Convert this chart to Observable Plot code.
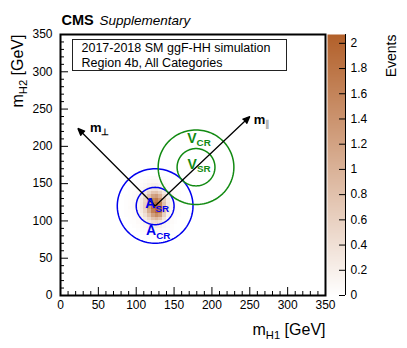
<!DOCTYPE html>
<html><head><meta charset="utf-8">
<script src="https://cdn.jsdelivr.net/npm/d3@7"></script>
<script src="https://cdn.jsdelivr.net/npm/@observablehq/plot@0.6"></script>
<style>
body{margin:0;background:#fff;}
#wrap{position:relative;width:407px;height:348px;overflow:hidden;}
#wrap svg{position:absolute;left:0;top:0;}
</style></head><body><div id="wrap"></div>
<script>
// ---------------- data ----------------
const xBinLow = [85,90,95,100,105,110,115,120,125,130,135,140,145,150,155,160];
const yBinLow = [155,150,145,140,135,130,125,120,115,110,105,100,95,90,85,80,75];
const binWidth = 5;
const events = [
 [0,0,0,0,0.02,0.03,0.05,0.06,0.06,0.05,0.03,0.02,0,0,0,0],
 [0,0,0,0.02,0.04,0.06,0.09,0.1,0.1,0.08,0.06,0.03,0.02,0,0,0],
 [0,0,0.02,0.04,0.06,0.1,0.16,0.2,0.2,0.16,0.1,0.06,0.03,0.02,0,0],
 [0,0.02,0.03,0.06,0.1,0.16,0.28,0.38,0.4,0.3,0.16,0.08,0.04,0.02,0,0],
 [0,0.02,0.05,0.08,0.14,0.28,0.5,0.75,0.8,0.58,0.28,0.12,0.06,0.03,0.02,0],
 [0.02,0.03,0.06,0.1,0.2,0.42,0.8,1.2,1.3,1.0,0.48,0.2,0.08,0.04,0.02,0],
 [0.02,0.04,0.07,0.13,0.27,0.55,1.1,1.6,1.75,1.4,0.7,0.26,0.1,0.05,0.02,0],
 [0.02,0.04,0.08,0.14,0.3,0.6,1.25,1.8,1.95,1.65,0.82,0.3,0.12,0.05,0.02,0.02],
 [0.02,0.05,0.08,0.15,0.3,0.6,1.25,1.85,2.05,1.85,0.88,0.3,0.12,0.05,0.02,0],
 [0.02,0.04,0.07,0.13,0.27,0.55,1.1,1.65,1.95,1.75,0.78,0.27,0.1,0.05,0.02,0],
 [0.02,0.03,0.06,0.1,0.2,0.42,0.8,1.25,1.5,1.3,0.58,0.2,0.08,0.04,0.02,0],
 [0,0.02,0.05,0.08,0.14,0.28,0.5,0.8,0.92,0.75,0.34,0.13,0.06,0.03,0,0],
 [0,0.02,0.03,0.06,0.09,0.16,0.28,0.42,0.48,0.38,0.2,0.09,0.05,0.02,0,0],
 [0,0,0.02,0.04,0.06,0.1,0.16,0.2,0.23,0.19,0.1,0.06,0.03,0,0,0],
 [0,0,0,0.02,0.04,0.06,0.09,0.1,0.11,0.09,0.06,0.04,0.02,0,0,0],
 [0,0,0,0,0.02,0.03,0.05,0.06,0.06,0.05,0.03,0.02,0,0,0,0],
 [0,0,0,0,0,0.02,0.02,0.03,0.03,0.02,0.02,0,0,0,0,0]
];
const axisTicksMajor = [0,50,100,150,200,250,300,350];
const axisTicksMinor = [10,20,30,40,60,70,80,90,110,120,130,140,160,170,180,190,210,220,230,240,260,270,280,290,310,320,330,340];
const colorTicks = [0,0.2,0.4,0.6,0.8,1,1.2,1.4,1.6,1.8,2];
const colorMax = 2.07;
const regionNames = ["A","V"];
const regionCenterH1 = [125,179];
const regionCenterH2 = [120,172];
const regionRadii = [25,50];
const arrowNames = ["m_{⊥}","m_{∥}"];
const arrowTipH1 = [23,250];
const arrowTipH2 = [224,240];
const legendLines = ["2017-2018 SM ggF-HH simulation","Region 4b, All Categories"];

// ---------------- layout / style ----------------
const W = 407, H = 348, ML = 60, MR = 82, MT = 34, MB = 53;
const FW = W - ML - MR, FH = H - MT - MB;
const FONT = "'Liberation Sans', Arial, Helvetica, sans-serif";
const brown = "#b2602a";
const blue = "#0000ee", green = "#128a12";
const colorSpec = {type: "linear", domain: [0, colorMax], range: ["#ffffff", brown], interpolate: "rgb"};

// ---------------- derived tables ----------------
const cells = [];
yBinLow.forEach((y, r) => xBinLow.forEach((x, c) => {
  const v = events[r][c];
  if (v > 0) cells.push({x1: x, x2: x + binWidth, y1: y, y2: y + binWidth, v});
}));
const circlePts = [];
regionNames.forEach((name, i) => regionRadii.forEach(R => {
  for (let a = 0; a <= 360; a += 3) {
    const t = a * Math.PI / 180;
    circlePts.push({region: name, id: name + R, x: regionCenterH1[i] + R * Math.cos(t), y: regionCenterH2[i] + R * Math.sin(t)});
  }
}));
const arrows = arrowNames.map((name, i) => ({name, x1: regionCenterH1[0], y1: regionCenterH2[0], x2: arrowTipH1[i], y2: arrowTipH2[i]}));
const regionLabel = (i, kind) => regionNames[i] + "_{" + kind + "}";

const main = Plot.plot({
  width: W, height: H, marginLeft: ML, marginRight: MR, marginTop: MT, marginBottom: MB,
  style: {fontFamily: FONT, fontSize: "12px", background: "white", color: "black", overflow: "visible"},
  x: {domain: [0, 350], axis: null},
  y: {domain: [0, 350], axis: null},
  color: colorSpec,
  marks: [
    Plot.rect(cells, {x1: "x1", x2: "x2", y1: "y1", y2: "y2", fill: "v", shapeRendering: "crispEdges"}),
    Plot.line(circlePts.filter(d => d.region === "A"), {x: "x", y: "y", z: "id", stroke: blue, strokeWidth: 1.5}),
    Plot.line(circlePts.filter(d => d.region === "V"), {x: "x", y: "y", z: "id", stroke: green, strokeWidth: 1.5}),
    Plot.arrow(arrows, {x1: "x1", y1: "y1", x2: "x2", y2: "y2", stroke: "black", fill: "black", strokeWidth: 1.3, headLength: 9, headAngle: 45, strokeLinecap: "butt", strokeLinejoin: "miter"}),
    // region labels
    Plot.text([regionLabel(0, "SR")], {x: regionCenterH1[0], y: regionCenterH2[0], dx: 2, dy: -2, fill: blue, fontWeight: "bold", fontSize: 14, textAnchor: "middle", lineAnchor: "middle"}),
    Plot.text([regionLabel(0, "CR")], {x: regionCenterH1[0], y: regionCenterH2[0], dx: 3, dy: 25, fill: blue, fontWeight: "bold", fontSize: 14, textAnchor: "middle", lineAnchor: "middle"}),
    Plot.text([regionLabel(1, "SR")], {x: regionCenterH1[1], y: regionCenterH2[1], dx: 3, dy: -3, fill: green, fontWeight: "bold", fontSize: 14, textAnchor: "middle", lineAnchor: "middle"}),
    Plot.text([regionLabel(1, "CR")], {x: regionCenterH1[1], y: regionCenterH2[1], dx: 3, dy: -29, fill: green, fontWeight: "bold", fontSize: 14, textAnchor: "middle", lineAnchor: "middle"}),
    // arrow labels
    Plot.text([arrows[0]], {x: "x2", y: "y2", text: "name", dx: 12, dy: -1, fontWeight: "bold", fontSize: 13, textAnchor: "start", lineAnchor: "middle"}),
    Plot.text([arrows[1]], {x: "x2", y: "y2", text: "name", dx: 4, dy: 3, fontWeight: "bold", fontSize: 13, textAnchor: "start", lineAnchor: "middle"}),
    // legend box
    Plot.frame({insetLeft: 12, insetTop: 5, insetRight: 39, insetBottom: 225, stroke: "#222", strokeWidth: 1}),
    Plot.text([legendLines[0]], {frameAnchor: "top-left", dx: 21, dy: 13.5, fontSize: 12.5, textAnchor: "start", lineAnchor: "middle"}),
    Plot.text([legendLines[1]], {frameAnchor: "top-left", dx: 21, dy: 28, fontSize: 12.5, textAnchor: "start", lineAnchor: "middle"}),
    // ticks (ROOT style, inward)
    Plot.ruleX(axisTicksMajor, {stroke: "black", insetTop: FH - 8}),
    Plot.ruleX(axisTicksMinor, {stroke: "black", insetTop: FH - 4}),
    Plot.ruleY(axisTicksMajor, {stroke: "black", insetRight: FW - 8}),
    Plot.ruleY(axisTicksMinor, {stroke: "black", insetRight: FW - 4}),
    Plot.axisX(axisTicksMajor, {tickSize: 0, tickPadding: 5, fontSize: 12, label: null}),
    Plot.axisY(axisTicksMajor, {tickSize: 0, tickPadding: 8, fontSize: 12, label: null}),
    Plot.frame({stroke: "black", strokeWidth: 2}),
    // titles
    Plot.text(["m_{H1} [GeV]"], {frameAnchor: "bottom-right", dy: 34, fontSize: 16, textAnchor: "end", lineAnchor: "middle"}),
    Plot.text(["m_{H2} [GeV]"], {frameAnchor: "top-left", dx: -43, rotate: -90, fontSize: 16, textAnchor: "end", lineAnchor: "middle"}),
    Plot.text(["CMS"], {frameAnchor: "top-left", dx: 1, dy: -14, fontSize: 14.5, fontWeight: "bold", textAnchor: "start", lineAnchor: "middle"}),
    Plot.text(["Supplementary"], {frameAnchor: "top-left", dx: 39, dy: -14, fontSize: 13.5, fontStyle: "italic", textAnchor: "start", lineAnchor: "middle"})
  ]
});

const colorbar = Plot.plot({
  width: W, height: H, marginLeft: 327, marginRight: 62, marginTop: MT, marginBottom: MB,
  style: {fontFamily: FONT, fontSize: "12px", background: "transparent", color: "black", overflow: "visible"},
  x: {domain: [0, 1], axis: null},
  y: {domain: [0, colorMax], axis: null},
  color: colorSpec,
  marks: [
    Plot.raster({x1: 0, x2: 1, y1: 0, y2: colorMax, fill: (x, y) => y, pixelSize: 1}),
    Plot.ruleY(colorTicks, {stroke: "black", insetLeft: 12}),
    Plot.ruleX([1], {stroke: "black"}),
    Plot.axisY(colorTicks, {anchor: "right", tickSize: 0, tickPadding: 5, fontSize: 12, label: null, tickFormat: d => d3.format("~g")(d)}),
    Plot.text(["Events"], {frameAnchor: "top-right", dx: 46, rotate: -90, fontSize: 14, textAnchor: "end", lineAnchor: "middle"})
  ]
});

function applySubscripts(svg) {
  d3.select(svg).selectAll("text").each(function() {
    const t = this.textContent;
    if (!t.includes("_{")) return;
    const parts = [];
    const re = /_\{([^}]*)\}/g;
    let last = 0, m;
    while ((m = re.exec(t))) {
      if (m.index > last) parts.push({s: t.slice(last, m.index)});
      parts.push({s: m[1], sub: true});
      last = re.lastIndex;
    }
    if (last < t.length) parts.push({s: t.slice(last)});
    this.textContent = "";
    const sel = d3.select(this);
    let shifted = false;
    parts.forEach(p => {
      const ts = sel.append("tspan").text(p.s);
      if (p.sub) {
        ts.style("font-size", "0.7em").attr("dy", "0.36em");
        if (p.s === "∥") ts.attr("fill", "#aaaaaa");
        shifted = true;
      } else if (shifted) {
        ts.attr("dy", "-0.252em");
        shifted = false;
      }
    });
  });
}
applySubscripts(main);
applySubscripts(colorbar);

const wrap = document.getElementById("wrap");
wrap.appendChild(main);
wrap.appendChild(colorbar);
</script></body></html>
